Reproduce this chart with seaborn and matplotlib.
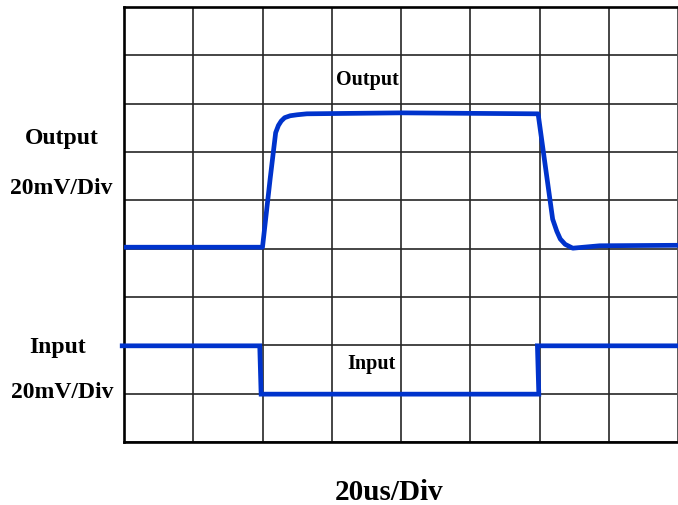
import matplotlib
matplotlib.use("Agg")
import matplotlib.pyplot as plt
import seaborn as sns
import pandas as pd

# Output trace (x in time divisions, y in vertical divisions)
output_x = [0.0, 2.0, 2.11, 2.19, 2.23, 2.27, 2.32, 2.40, 2.50, 2.64, 4.0, 5.98,
            6.19, 6.25, 6.30, 6.37, 6.48, 6.87, 8.0]
output_y = [4.03, 4.03, 5.44, 6.40, 6.55, 6.64, 6.71, 6.75, 6.77, 6.79, 6.81, 6.79,
            4.61, 4.36, 4.20, 4.09, 4.01, 4.06, 4.07]

# Input trace
input_x = [-0.06, 1.96, 1.98, 5.99, 5.97, 8.0]
input_y = [1.99, 1.99, 0.99, 0.99, 1.99, 1.99]

x_divs = 8
y_divs = 9

sns.set_theme(style="white")
plt.rcParams['font.family'] = ['Liberation Serif', 'DejaVu Serif']

fig = plt.figure(figsize=(6.78, 5.06), dpi=100)
ax = fig.add_axes([124/678, 1 - 443/506, 1 - 124/678, (443 - 8)/506])

blue = '#0033CC'
df_out = pd.DataFrame({'x': output_x, 'y': output_y})
df_in = pd.DataFrame({'x': input_x, 'y': input_y})
sns.lineplot(data=df_out, x='x', y='y', sort=False, estimator=None, ax=ax,
             color=blue, linewidth=3.4, clip_on=False, zorder=5,
             solid_joinstyle='round', solid_capstyle='butt')
sns.lineplot(data=df_in, x='x', y='y', sort=False, estimator=None, ax=ax,
             color=blue, linewidth=3.4, clip_on=False, zorder=5,
             solid_joinstyle='miter', solid_capstyle='butt')

ax.set_xlim(0, x_divs)
ax.set_ylim(0, y_divs)
ax.set_xticks(range(x_divs + 1))
ax.set_yticks(range(y_divs + 1))
ax.tick_params(left=False, bottom=False, labelleft=False, labelbottom=False)
ax.grid(True, color='#262626', linewidth=1.2)
ax.set_xlabel('')
ax.set_ylabel('')
for s in ['left', 'top', 'bottom']:
    ax.spines[s].set_visible(True)
    ax.spines[s].set_color('black')
    ax.spines[s].set_linewidth(1.9)
ax.spines['right'].set_visible(True)
ax.spines['right'].set_color('#606060')
ax.spines['right'].set_linewidth(1.1)

ax.text(3.52, 7.51, 'Output', ha='center', va='center', fontsize=14.5,
        fontweight='bold', color='black')
ax.text(3.57, 1.63, 'Input', ha='center', va='center', fontsize=14.5,
        fontweight='bold', color='black')

def ftext(px, py, s, size):
    fig.text(px/678, 1 - py/506, s, ha='center', va='center', fontsize=size,
             fontweight='bold', color='black')

ftext(62, 139, 'Output', 17)
ftext(61, 189, '20mV/Div', 17)
ftext(58, 347, 'Input', 17)
ftext(62, 393, '20mV/Div', 17)
ftext(389, 493, '20us/Div', 21)

fig.savefig('out.png', dpi=100)
